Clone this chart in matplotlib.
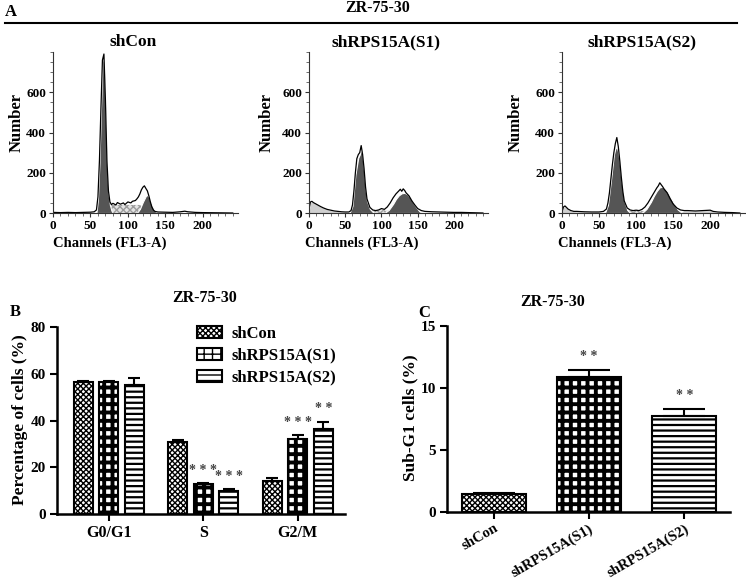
import numpy as np
import matplotlib
matplotlib.use('Agg')
import matplotlib.pyplot as plt
from matplotlib.patches import Patch
from matplotlib.lines import Line2D
from matplotlib.ticker import MultipleLocator

plt.rcParams['font.family'] = ['Liberation Serif', 'DejaVu Serif']
plt.rcParams['font.weight'] = 'bold'
plt.rcParams['axes.labelweight'] = 'bold'

W, H = 746, 584

# ---- panel A: flow histograms (channel, count) ----
panel_titles = ['shCon', 'shRPS15A(S1)', 'shRPS15A(S2)']

# shCon
ch1 = [0, 10, 20, 30, 40, 50, 55, 58, 60, 62, 64, 66, 68, 70, 72, 74, 76, 78, 80, 84, 86, 90, 94, 96, 100,
       104, 106, 110, 112, 114, 116, 118, 120, 122, 124, 126, 128, 130, 132, 134, 136, 140, 150, 160, 170,
       176, 180, 190, 200, 220, 240]
tot1 = [3, 2, 3, 2, 3, 4, 6, 15, 80, 260, 520, 760, 790, 560, 260, 110, 55, 42, 48, 40, 52, 44, 50, 42, 55,
        50, 58, 62, 70, 80, 95, 115, 128, 135, 122, 110, 85, 55, 30, 15, 8, 5, 4, 3, 6,
        9, 6, 3, 2, 1, 0]
g1x1 = [58, 60, 62, 64, 66, 68, 70, 72, 74, 76, 78, 80]
g1y1 = [0, 70, 250, 510, 750, 785, 550, 250, 100, 40, 12, 0]
sx1 = [68, 74, 80, 90, 100, 110, 116, 120, 124]
sy1 = [0, 38, 40, 40, 40, 40, 40, 30, 0]
g2x1 = [112, 116, 120, 124, 126, 128, 132, 136, 140]
g2y1 = [0, 20, 55, 85, 90, 80, 40, 10, 0]
lx1 = [0, 240]
ly1 = [0, 0]

# shRPS15A(S1)
ch2 = [0, 2, 4, 6, 8, 12, 16, 20, 25, 30, 35, 40, 45, 50, 55, 58, 60, 62, 64, 66, 68, 70, 72, 74, 76, 78,
       80, 84, 88, 92, 96, 100, 104, 108, 112, 116, 120, 124, 126, 128, 130, 132, 134, 138, 142, 146, 150,
       155, 160, 170, 180, 190, 200, 210, 220, 230, 240]
tot2 = [20, 55, 58, 52, 48, 40, 32, 25, 18, 14, 10, 8, 6, 5, 5, 12, 40, 110, 200, 270, 290, 300, 335, 290,
        220, 130, 70, 28, 15, 12, 15, 22, 18, 30, 50, 75, 95, 110, 118, 108, 120, 112, 100, 85, 60, 40, 22,
        12, 8, 6, 5, 4, 3, 3, 2, 1, 0]
g1x2 = [56, 60, 64, 68, 70, 72, 74, 76, 78, 80, 84, 88, 92]
g1y2 = [0, 35, 190, 275, 290, 320, 280, 210, 120, 60, 20, 5, 0]
sx2 = [80, 88, 96, 104, 112, 118]
sy2 = [0, 12, 14, 14, 12, 0]
g2x2 = [104, 110, 116, 120, 124, 128, 132, 136, 140, 144, 148, 152, 156]
g2y2 = [0, 15, 45, 70, 88, 98, 100, 92, 75, 50, 28, 10, 0]
lx2 = [0, 2, 4, 8, 12, 16, 20, 25, 30, 35, 40, 45, 50, 55]
ly2 = [0, 50, 55, 46, 38, 30, 23, 17, 12, 9, 7, 5, 4, 0]

# shRPS15A(S2)
ch3 = [0, 2, 4, 6, 8, 12, 16, 20, 30, 40, 50, 56, 60, 62, 64, 66, 68, 70, 72, 74, 76, 78, 80, 82, 84, 88,
       92, 96, 100, 104, 108, 112, 116, 120, 124, 128, 130, 132, 134, 136, 138, 142, 146, 150, 155, 160,
       165, 170, 180, 190, 200, 204, 210, 220, 230, 240]
tot3 = [5, 30, 35, 28, 20, 12, 8, 8, 6, 5, 5, 8, 20, 50, 100, 170, 240, 300, 345, 375, 330, 260, 180, 110,
        60, 25, 15, 12, 14, 12, 18, 30, 50, 75, 100, 125, 135, 150, 140, 130, 118, 100, 70, 45, 25, 15,
        12, 12, 10, 12, 14, 8, 5, 3, 2, 0]
g1x3 = [58, 62, 66, 70, 72, 74, 76, 78, 80, 84, 88, 92]
g1y3 = [0, 40, 160, 290, 320, 330, 300, 250, 170, 60, 15, 0]
sx3 = [84, 92, 100, 110, 118]
sy3 = [0, 10, 12, 10, 0]
g2x3 = [108, 114, 120, 124, 128, 132, 136, 140, 144, 148, 152, 156, 162]
g2y3 = [0, 20, 55, 85, 110, 128, 130, 118, 95, 68, 40, 18, 0]
lx3 = [0, 2, 4, 8, 12, 16, 20, 30, 40, 50, 56, 158, 165, 180, 200, 210]
ly3 = [0, 28, 32, 18, 10, 7, 6, 5, 4, 4, 0, 0, 10, 10, 12, 0]

# ---- panel B: cell cycle distribution (%) ----
phases = ['G0/G1', 'S', 'G2/M']
groups = ['shCon', 'shRPS15A(S1)', 'shRPS15A(S2)']
pct_shcon = [56.5, 30.6, 14.3]
pct_s1 = [56.6, 12.7, 32.2]
pct_s2 = [55.1, 10.0, 36.5]
err_shcon = [0.5, 1.0, 0.9]
err_s1 = [0.5, 0.4, 1.5]
err_s2 = [3.0, 0.6, 3.0]
stars_b = [['', '', ''], ['', '* * *', '* * *'], ['', '* * *', '* *']]

# ---- panel C: sub-G1 (%) ----
subg1 = [1.43, 10.85, 7.72]
subg1_err = [0.1, 0.6, 0.6]
stars_c = ['', '* *', '* *']

hatches = ['xxxxxx', '++', '---']
hatch_lw = [1.0, 2.8, 1.6]

fig = plt.figure(figsize=(W / 100, H / 100), dpi=100)


def px_axes(l, t, r, b):
    return fig.add_axes([l / W, 1 - b / H, (r - l) / W, (b - t) / H])


def ftext(x, y, s, **kw):
    kw.setdefault('ha', 'center')
    kw.setdefault('va', 'center')
    return fig.text(x / W, 1 - y / H, s, **kw)


ftext(5, 12, 'A', ha='left', fontsize=12)
ftext(378, 8, 'ZR-75-30', fontsize=11.5)
fig.add_artist(Line2D([5 / W, 737 / W], [1 - 23 / H, 1 - 23 / H], color='black', lw=1.5))

hists = [(ch1, tot1, g1x1, g1y1, sx1, sy1, g2x1, g2y1, lx1, ly1),
         (ch2, tot2, g1x2, g1y2, sx2, sy2, g2x2, g2y2, lx2, ly2),
         (ch3, tot3, g1x3, g1y3, sx3, sy3, g2x3, g2y3, lx3, ly3)]
ax_px = [(53, 238), (309, 488), (562, 745)]
title_x = [133, 386, 642]
num_x = [17, 267, 516]
chan_x = [110, 362, 615]

for i, (ch, tot, g1x, g1y, sx, sy, g2x, g2y, lx, ly) in enumerate(hists):
    l, r = ax_px[i]
    ax = px_axes(l, 52, r, 213)
    ax.fill_between(lx, ly, color='#cfcfcf', lw=0)
    ax.fill_between(sx, sy, facecolor='#e4e4e4', edgecolor='#9c9c9c', hatch='xxxxx', lw=0)
    ax.fill_between(g1x, g1y, facecolor='#555555', edgecolor='white', lw=0.8)
    ax.fill_between(g2x, g2y, facecolor='#555555', edgecolor='white', lw=0.8)
    ax.plot(ch, tot, color='black', lw=0.9)
    ax.set_xlim(0, 247)
    ax.set_ylim(0, 800)
    ax.set_xticks([0, 50, 100, 150, 200])
    ax.set_yticks([0, 200, 400, 600])
    ax.xaxis.set_minor_locator(MultipleLocator(10))
    ax.yaxis.set_minor_locator(MultipleLocator(50))
    for s in ['top', 'right']:
        ax.spines[s].set_visible(False)
    for s in ['left', 'bottom']:
        ax.spines[s].set_linewidth(0.8)
        ax.spines[s].set_color('#333333')
    ax.tick_params(which='major', length=3, width=0.8, labelsize=9.5, pad=2, color='#333333')
    ax.tick_params(which='minor', length=2, width=0.6, color='#555555')
    ftext(title_x[i], 42, panel_titles[i], fontsize=12.5)
    ftext(num_x[i], 123, 'Number', rotation=90, fontsize=12)
    ftext(chan_x[i], 243, 'Channels (FL3-A)', fontsize=10.5)

# ---- panel B ----
ftext(10, 312, 'B', ha='left', fontsize=12)
ftext(205, 298, 'ZR-75-30', fontsize=11.5)
axb = px_axes(57, 327, 345, 514)
xb = np.arange(len(phases))
offs = [-0.27, 0, 0.27]
vals = [pct_shcon, pct_s1, pct_s2]
errs = [err_shcon, err_s1, err_s2]
for k in range(3):
    with plt.rc_context({'hatch.linewidth': hatch_lw[k]}):
        axb.bar(xb + offs[k], vals[k], width=0.2, facecolor='white', edgecolor='black',
                hatch=hatches[k], lw=1.5, zorder=2)
    axb.errorbar(xb + offs[k], vals[k], yerr=[np.zeros(3), errs[k]], fmt='none', ecolor='black',
                 elinewidth=1.5, capsize=4.5, capthick=1.5, zorder=3)
    for j in range(3):
        if stars_b[k][j]:
            axb.text(xb[j] + offs[k], vals[k][j] + errs[k][j] + 5.5, stars_b[k][j], ha='center',
                     va='center', fontsize=10, color='#444444')
axb.set_xlim(-0.55, 2.5)
axb.set_ylim(0, 80)
axb.set_yticks([0, 20, 40, 60, 80])
axb.set_xticks(xb)
axb.set_xticklabels(phases, fontsize=11.5)
axb.tick_params(axis='y', labelsize=11)
axb.tick_params(length=5, width=1.5, pad=3)
for s in ['top', 'right']:
    axb.spines[s].set_visible(False)
for s in ['left', 'bottom']:
    axb.spines[s].set_linewidth(1.8)
ftext(20, 420, 'Percentage of cells (%)', rotation=90, fontsize=12.5)

handles = []
for k in range(3):
    with plt.rc_context({'hatch.linewidth': hatch_lw[k]}):
        handles.append(Patch(facecolor='white', edgecolor='black', hatch=hatches[k], lw=1.5))
axb.legend(handles, groups, loc='upper left', bbox_to_anchor=(190 / W, 1 - 319 / H),
           bbox_transform=fig.transFigure, frameon=False, fontsize=12, handlelength=1.5,
           handleheight=0.8, handletextpad=0.6, labelspacing=0.35, borderaxespad=0)

# ---- panel C ----
ftext(418, 313, 'C', ha='left', fontsize=12)
ftext(553, 302, 'ZR-75-30', fontsize=11.5)
axc = px_axes(447, 326, 730, 512)
xc = np.arange(len(groups))
for k in range(3):
    with plt.rc_context({'hatch.linewidth': hatch_lw[k]}):
        axc.bar(xc[k], subg1[k], width=0.67, facecolor='white', edgecolor='black', hatch=hatches[k],
                lw=1.5, zorder=2)
    axc.errorbar(xc[k], subg1[k], yerr=[[0], [subg1_err[k]]], fmt='none', ecolor='black',
                 elinewidth=1.5, capsize=15, capthick=1.5, zorder=3)
    if stars_c[k]:
        axc.text(xc[k], subg1[k] + subg1_err[k] + 1.1, stars_c[k], ha='center', va='center',
                 fontsize=10, color='#444444')
axc.set_xlim(-0.49, 2.48)
axc.set_ylim(0, 15)
axc.set_yticks([0, 5, 10, 15])
axc.set_xticks(xc)
axc.set_xticklabels(groups, rotation=30, ha='right', va='top', rotation_mode='anchor', fontsize=10.5)
axc.tick_params(axis='y', labelsize=11)
axc.tick_params(length=5, width=1.5, pad=3)
axc.tick_params(axis='x', pad=2)
for s in ['top', 'right']:
    axc.spines[s].set_visible(False)
for s in ['left', 'bottom']:
    axc.spines[s].set_linewidth(1.8)
ftext(410, 418, 'Sub-G1 cells (%)', rotation=90, fontsize=12.5)

fig.savefig('out.png', dpi=100)
